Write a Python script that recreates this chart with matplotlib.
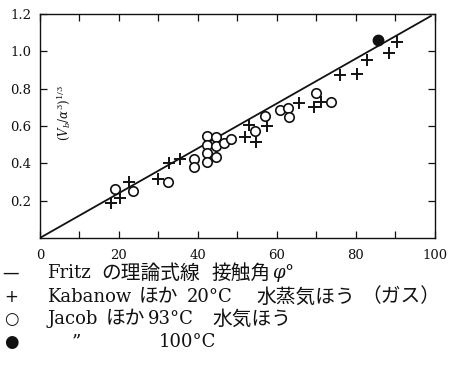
"""Bubble departure volume vs contact angle (Fritz line with Kabanow / Jacob data)."""

import matplotlib

matplotlib.use("Agg")
import matplotlib.pyplot as plt
from matplotlib.ticker import MultipleLocator

INK = "#111111"
LATIN = ["DejaVu Serif", "Noto Sans CJK JP"]
KANA = ["Noto Sans CJK JP", "DejaVu Serif"]
FIG_W, FIG_H = 453, 382

# theoretical Fritz line
fritz_x = [0, 99]
fritz_y = [0.0, 1.19]

# Kabanow et al., 20 C, water vapour bubbles (gas)
kabanow_x = [18.1, 20.4, 22.5, 29.8, 32.6, 35.5, 51.9, 53.0, 54.8, 57.6,
             65.6, 69.5, 71.2, 76.0, 80.4, 82.9, 88.4, 90.5]
kabanow_y = [0.186, 0.216, 0.300, 0.318, 0.400, 0.425, 0.543, 0.605, 0.513, 0.600,
             0.725, 0.700, 0.730, 0.873, 0.877, 0.953, 0.990, 1.048]

# Jacob et al., 93 C, water vapour bubbles
jacob_x = [19.1, 23.6, 32.4, 39.0, 39.0, 42.2, 42.2, 42.2, 42.2, 44.6, 44.6,
           44.6, 46.6, 48.4, 54.5, 56.9, 60.9, 62.8, 63.1, 69.9, 73.7]
jacob_y = [0.264, 0.253, 0.300, 0.425, 0.378, 0.546, 0.500, 0.454, 0.405, 0.543, 0.494,
           0.435, 0.507, 0.529, 0.575, 0.653, 0.686, 0.695, 0.646, 0.778, 0.730]

# Jacob et al., 100 C
jacob100_x = [85.5]
jacob100_y = [1.06]

x_ticks = [0, 20, 40, 60, 80, 100]
y_ticks = [0.2, 0.4, 0.6, 0.8, 1.0, 1.2]

legend_symbols = ["—", "+", "○", "●"]
# each legend row is typeset in pieces: (text, left edge in px, font kind)
legend_rows = [
    [("Fritz", 47, "latin"), ("の理論式線", 101, "kana"), ("接触角", 211, "kana"),
     (r"$\varphi$°", 272, "latin")],
    [("Kabanow", 47, "latin"), ("ほか", 139, "kana"), ("20°C", 187, "latin"),
     ("水蒸気ほう", 256, "kana"), ("（ガス）", 361, "kana")],
    [("Jacob", 47, "latin"), ("ほか", 106, "kana"), ("93°C", 148, "latin"),
     ("水気ほう", 212, "kana")],
    [("”", 72, "latin"), ("100°C", 159, "latin")],
]

plt.rcParams["mathtext.fontset"] = "dejavuserif"

fig = plt.figure(figsize=(FIG_W / 100, FIG_H / 100), dpi=100)
ax = fig.add_axes([0.088, 0.377, 0.872, 0.586])

ax.plot(fritz_x, fritz_y, color=INK, linewidth=1.3, zorder=2)
ax.plot(kabanow_x, kabanow_y, linestyle="none", marker="+", markersize=8,
        markeredgewidth=1.4, color=INK, zorder=3)
ax.plot(jacob_x, jacob_y, linestyle="none", marker="o", markersize=6.8,
        markeredgewidth=1.2, markerfacecolor="white", markeredgecolor=INK, zorder=3)
ax.plot(jacob100_x, jacob100_y, linestyle="none", marker="o", markersize=7.5,
        color=INK, zorder=3)

ax.set_xlim(0, 100)
ax.set_ylim(0, 1.2)
ax.set_xticks(x_ticks)
ax.set_yticks(y_ticks)
ax.xaxis.set_minor_locator(MultipleLocator(10))
ax.tick_params(which="both", direction="in", top=True, right=True, length=5,
               width=0.9, colors=INK, labelsize=9.5)
ax.tick_params(axis="x", which="both", pad=8)
ax.tick_params(axis="y", which="both", pad=6)
for label in ax.get_xticklabels() + ax.get_yticklabels():
    label.set_family(LATIN)
for side in ax.spines.values():
    side.set_linewidth(1.0)
    side.set_color(INK)

ax.text(6.3, 0.67, r"$(V_b/\alpha^3)^{1/3}$", rotation=90, ha="center", va="center",
        fontsize=8.5, color=INK)

row_y = [273, 297, 319, 342]
for symbol, pieces, y in zip(legend_symbols, legend_rows, row_y):
    fy = 1 - y / FIG_H
    fig.text(11 / FIG_W, fy, symbol, ha="center", va="center", fontsize=12,
             family=["DejaVu Sans"], color=INK)
    for text, x, kind in pieces:
        fig.text(x / FIG_W, fy, text, ha="left", va="center",
                 fontsize=13 if kind == "latin" else 14.2,
                 family=LATIN if kind == "latin" else KANA, color=INK)

fig.savefig("out.png", dpi=100)
